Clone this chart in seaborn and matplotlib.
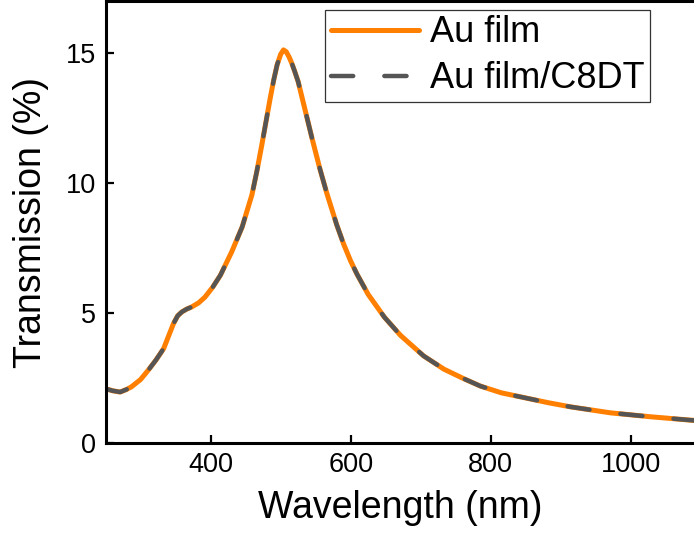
import numpy as np
import pandas as pd
import matplotlib
matplotlib.use("Agg")
import matplotlib.pyplot as plt
import seaborn as sns

# ---- data ----
wavelength = [250, 260, 271, 280, 287, 300, 311, 322, 333, 347, 353, 359, 366,
              373, 383, 392, 403, 414, 430, 445, 459, 466, 473, 480, 485, 490,
              495, 500, 504, 508, 512, 516, 520, 525, 535, 545, 556, 566, 580,
              590, 600, 609, 625, 648, 671, 704, 733, 760, 785, 815, 852, 882,
              914, 971, 1028, 1085, 1100]
t_au_film = [2.10, 2.02, 1.97, 2.07, 2.17, 2.45, 2.81, 3.20, 3.64, 4.60, 4.90,
             5.05, 5.16, 5.24, 5.40, 5.62, 6.00, 6.46, 7.35, 8.31, 9.55, 10.45,
             11.45, 12.50, 13.25, 13.95, 14.55, 14.95, 15.12, 15.05, 14.85,
             14.60, 14.30, 13.90, 12.80, 11.70, 10.55, 9.60, 8.40, 7.65, 7.00,
             6.50, 5.72, 4.85, 4.15, 3.36, 2.85, 2.50, 2.20, 1.94, 1.73, 1.56,
             1.40, 1.17, 1.02, 0.89, 0.86]
t_au_c8dt = [2.10, 2.02, 1.97, 2.07, 2.17, 2.45, 2.81, 3.20, 3.64, 4.60, 4.90,
             5.05, 5.16, 5.24, 5.40, 5.62, 6.00, 6.46, 7.35, 8.31, 9.55, 10.45,
             11.45, 12.50, 13.25, 13.95, 14.55, 14.95, 15.12, 15.05, 14.85,
             14.60, 14.30, 13.90, 12.80, 11.70, 10.55, 9.60, 8.40, 7.65, 7.00,
             6.50, 5.72, 4.85, 4.15, 3.36, 2.85, 2.50, 2.20, 1.94, 1.73, 1.56,
             1.40, 1.17, 1.02, 0.89, 0.86]
series_names = ["Au film", "Au film/C8DT"]
x_ticks = [400, 600, 800, 1000]
y_ticks = [0, 5, 10, 15]

sns.set_style("ticks")
plt.rcParams["font.family"] = ["Liberation Sans", "DejaVu Sans"]
plt.rcParams["text.color"] = "black"
plt.rcParams["axes.labelcolor"] = "black"
plt.rcParams["xtick.color"] = "black"
plt.rcParams["ytick.color"] = "black"

W, H = 694, 544
fig = plt.figure(figsize=(W / 100, H / 100), dpi=100)
ax = fig.add_axes([105.5 / W, (H - 443.3) / H, 1 - 105.5 / W, (443.3 - 1.0) / H])

df1 = pd.DataFrame({"x": wavelength, "y": t_au_film})
df2 = pd.DataFrame({"x": wavelength, "y": t_au_c8dt})
sns.lineplot(data=df1, x="x", y="y", ax=ax, color="#FF7F00", linewidth=3.6,
             label=series_names[0], solid_capstyle="round",
             solid_joinstyle="round")
sns.lineplot(data=df2, x="x", y="y", ax=ax, color="#555555", linewidth=3.2,
             linestyle=(0, (5.0, 7.0)), dash_capstyle="round",
             dash_joinstyle="round", label=series_names[1])

ax.set_xlim(250, 1090)
ax.set_ylim(0, 17)
ax.set_xticks(x_ticks)
ax.set_yticks(y_ticks)
ax.tick_params(direction="in", length=5.5, width=1.6, labelsize=19.5,
               color="black", labelcolor="black")
ax.tick_params(axis="x", pad=6)
ax.tick_params(axis="y", pad=7)
for side in ["left", "bottom", "top"]:
    ax.spines[side].set_linewidth(2.2)
    ax.spines[side].set_color("black")
ax.spines["right"].set_visible(False)

ax.set_xlabel("Wavelength (nm)", fontsize=27, labelpad=9, color="black")
ax.set_ylabel("Transmission (%)", fontsize=27, labelpad=12, color="black")

leg = ax.legend(loc="upper right", bbox_to_anchor=(650 / W, 1 - 10 / H),
                bbox_transform=fig.transFigure, borderaxespad=0,
                fontsize=26, frameon=True, fancybox=False, shadow=False,
                framealpha=1, edgecolor="#333333", handlelength=2.45,
                handletextpad=0.3, borderpad=0.15, labelspacing=0.3)
leg.get_frame().set_linewidth(0.9)
for t in leg.get_texts():
    t.set_color("black")

fig.savefig("out.png", dpi=100)
